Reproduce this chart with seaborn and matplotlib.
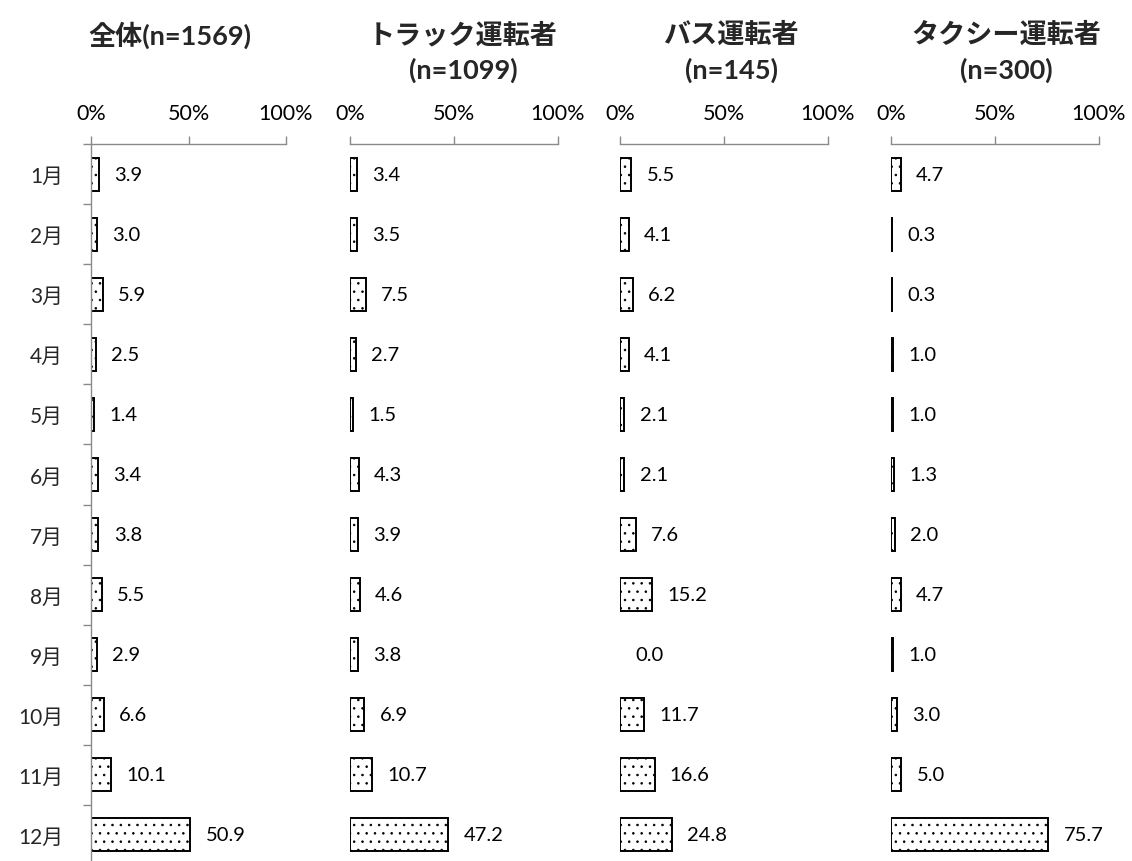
import numpy as np
import pandas as pd
import matplotlib
matplotlib.use("Agg")
import matplotlib.pyplot as plt
import seaborn as sns
from matplotlib.ticker import FixedLocator

sns.set_theme(style="white")
plt.rcParams['font.family'] = ['Lato', 'Noto Sans CJK JP', 'DejaVu Sans']
plt.rcParams['hatch.color'] = '#444444'
plt.rcParams['hatch.linewidth'] = 0.6

months = ['1月', '2月', '3月', '4月', '5月', '6月', '7月', '8月', '9月', '10月', '11月', '12月']
overall = [3.9, 3.0, 5.9, 2.5, 1.4, 3.4, 3.8, 5.5, 2.9, 6.6, 10.1, 50.9]
truck = [3.4, 3.5, 7.5, 2.7, 1.5, 4.3, 3.9, 4.6, 3.8, 6.9, 10.7, 47.2]
bus = [5.5, 4.1, 6.2, 4.1, 2.1, 2.1, 7.6, 15.2, 0.0, 11.7, 16.6, 24.8]
taxi = [4.7, 0.3, 0.3, 1.0, 1.0, 1.3, 2.0, 4.7, 1.0, 3.0, 5.0, 75.7]
titles = ['全体(n=1569)', 'トラック運転者\n(n=1099)', 'バス運転者\n(n=145)', 'タクシー運転者\n(n=300)']
xticks = [0, 50, 100]
xticklabels = ['0%', '50%', '100%']

series = [overall, truck, bus, taxi]

W, H = 1132, 862
fig = plt.figure(figsize=(W / 100, H / 100), dpi=100)

panels_px = [(91, 286), (350, 558), (620, 828), (891, 1099)]
title_x_px = [170, 463, 731, 1006]
top_px, bottom_px = 145, 866
gray = '#8a8a8a'

for i, (vals, (l, r)) in enumerate(zip(series, panels_px)):
    ax = fig.add_axes([l / W, 1 - bottom_px / H, (r - l) / W, (bottom_px - top_px) / H])
    df = pd.DataFrame({'month': months, 'value': vals})
    sns.barplot(data=df, x='value', y='month', orient='h', ax=ax,
                color='white', edgecolor='black', linewidth=1.4, width=0.55,
                saturation=1)
    for p in ax.patches:
        p.set_hatch('..')
        p.set_facecolor('white')
        if p.get_width() == 0:
            p.set_linewidth(0)
            p.set_hatch(None)
    for c in ax.containers:
        ax.bar_label(c, fmt='%.1f', padding=11, fontsize=14.5, color='black')

    ax.set_xlim(0, 100)
    ax.set_ylim(len(months) - 0.5, -0.5)
    ax.set_xlabel('')
    ax.set_ylabel('')
    ax.xaxis.tick_top()
    ax.set_xticks(xticks)
    ax.set_xticklabels(xticklabels)
    ax.tick_params(axis='x', which='major', direction='out', length=5.8, width=1,
                   color=gray, pad=9, labelsize=15.5, labelcolor='black',
                   top=True, bottom=False)
    for s in ['right', 'bottom']:
        ax.spines[s].set_visible(False)
    ax.spines['top'].set_color(gray)
    ax.spines['top'].set_linewidth(1.0)
    if i == 0:
        ax.spines['left'].set_color(gray)
        ax.spines['left'].set_linewidth(1.0)
        ax.yaxis.set_minor_locator(FixedLocator(np.arange(-0.5, len(months), 1.0)))
        ax.tick_params(axis='y', which='major', length=0, pad=20, labelsize=15)
        ax.tick_params(axis='y', which='minor', left=True, direction='out',
                       length=5.8, width=1, color=gray)
    else:
        ax.spines['left'].set_visible(False)
        ax.tick_params(axis='y', which='both', left=False, labelleft=False)
    ax.set_facecolor('none')

    n_lines = titles[i].count('\n') + 1
    ty = 35 if n_lines == 1 else 52.5
    fig.text(title_x_px[i] / W, 1 - ty / H, titles[i], ha='center', va='center',
             fontsize=19.5, fontweight='bold', linespacing=1.5)

fig.savefig('out.png', dpi=100)
